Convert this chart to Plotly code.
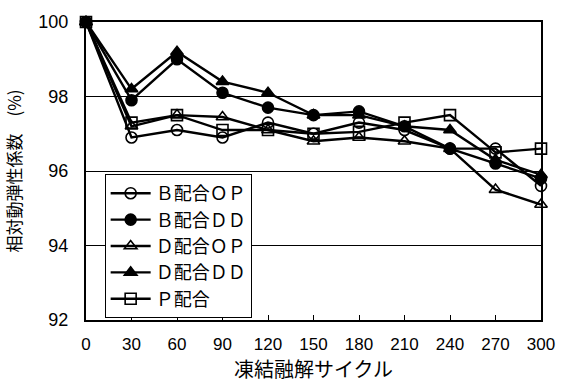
import plotly.graph_objects as go

cycles = [0, 30, 60, 90, 120, 150, 180, 210, 240, 270, 300]
b_op = [100, 96.9, 97.1, 96.9, 97.3, 97.0, 97.3, 97.1, 96.6, 96.6, 95.6]
b_dd = [100, 97.9, 99.0, 98.1, 97.7, 97.5, 97.6, 97.2, 96.6, 96.2, 95.8]
d_op = [100, 97.2, 97.5, 97.45, 97.1, 96.8, 96.9, 96.8, 96.6, 95.5, 95.1]
d_dd = [100, 98.2, 99.2, 98.4, 98.1, 97.5, 97.5, 97.2, 97.1, 96.3, 95.9]
p_mix = [100, 97.3, 97.5, 97.1, 97.1, 97.0, 97.05, 97.3, 97.5, 96.5, 96.6]

names = ["Ｂ配合ＯＰ", "Ｂ配合ＤＤ", "Ｄ配合ＯＰ", "Ｄ配合ＤＤ", "Ｐ配合"]
series = [b_op, b_dd, d_op, d_dd, p_mix]
symbols = ["circle-open", "circle", "triangle-up-open", "triangle-up", "square-open"]

fig = go.Figure()
for name, vals, sym in zip(names, series, symbols):
    fig.add_trace(go.Scatter(
        x=cycles, y=vals, name=name, mode="lines+markers",
        line=dict(color="black", width=2.4),
        marker=dict(symbol=sym, size=11, color="black",
                    line=dict(color="black", width=1.6)),
        cliponaxis=False,
    ))

fig.update_layout(
    width=567, height=385,
    margin=dict(l=86, r=22, t=18, b=65),
    paper_bgcolor="white", plot_bgcolor="white",
    font=dict(family="Liberation Sans, Arial, sans-serif", color="black", size=17),
    showlegend=True,
    legend=dict(
        x=0.041, y=0.49, xanchor="left", yanchor="top",
        bgcolor="white", bordercolor="black", borderwidth=1,
        font=dict(family="Noto Sans CJK JP", size=18, color="black"),
        tracegroupgap=0, itemwidth=40,
    ),
)
fig.update_xaxes(
    range=[0, 300], tickvals=cycles, ticktext=[str(c) for c in cycles],
    showline=True, linecolor="black", linewidth=2, mirror=True,
    ticks="inside", ticklen=5, tickcolor="black",
    showgrid=False, zeroline=False, ticklabelstandoff=8,
    tickfont=dict(family="Liberation Sans, Arial, sans-serif", size=17),
    title=dict(text="凍結融解サイクル", font=dict(family="Noto Sans CJK JP", size=20), standoff=4),
)
fig.update_yaxes(
    range=[92, 100], tickvals=[92, 94, 96, 98, 100],
    showline=True, linecolor="black", linewidth=2, mirror=True,
    ticks="", showgrid=True, gridcolor="black", gridwidth=1, zeroline=False,
    ticklabelstandoff=12,
    tickfont=dict(family="Liberation Sans, Arial, sans-serif", size=18),
    title=dict(text="相対動弾性係数　(%)", font=dict(family="Noto Sans CJK JP", size=17), standoff=12),
)

fig.write_html("out.html")
